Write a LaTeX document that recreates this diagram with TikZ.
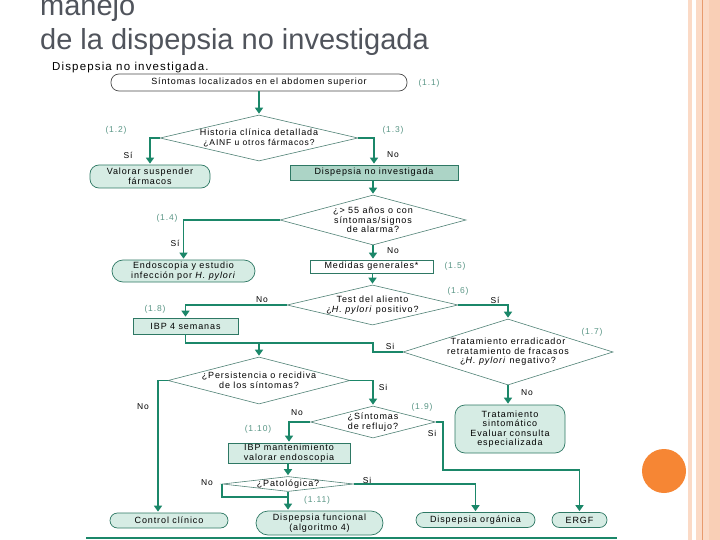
\documentclass[tikz,border=0pt]{standalone}
\usepackage{fontspec}
\setmainfont{Liberation Sans}
\newfontfamily\bxf{Liberation Sans}[LetterSpace=10]
\usetikzlibrary{arrows.meta,shapes.geometric}
\definecolor{lnG}{RGB}{27,135,105}
\definecolor{bxD}{RGB}{46,120,100}
\definecolor{fillL}{RGB}{214,236,228}
\definecolor{fillM}{RGB}{172,212,198}
\definecolor{diaC}{RGB}{80,130,118}
\definecolor{numC}{RGB}{90,150,134}
\definecolor{titC}{RGB}{80,84,92}
\definecolor{peachA}{RGB}{251,218,198}
\definecolor{peachB}{RGB}{249,207,182}
\definecolor{orangeL}{RGB}{232,155,110}
\definecolor{orangeC}{RGB}{246,134,52}
\begin{document}
\begin{tikzpicture}[x=1pt,y=-1pt,
  txt/.style={font=\bxf\fontsize{9}{9.5}\selectfont, align=center},
  box/.style={txt, draw=bxD, line width=0.7pt, fill=fillL, inner sep=0pt},
  rbox/.style={box, rounded corners=#1},
  dia/.style={diamond, draw=diaC, line width=0.6pt, inner sep=0pt, fill=white},
  dtext/.style={label={[txt]center:{#1}}},
  ln/.style={draw=lnG, line width=1.8pt},
  arr/.style={ln, -{Triangle[width=8pt,length=6pt]}, shorten >=1pt},
  num/.style={text=numC, font=\bxf\fontsize{8.5}{9}\selectfont, inner sep=0pt},
  yn/.style={font=\bxf\fontsize{8.5}{9}\selectfont, inner sep=0pt}]
\useasboundingbox (0,0) rectangle (720,540);
\fill[white] (0,0) rectangle (720,540);
% right border decoration
\fill[peachA] (688,0) rectangle (692,540);
\fill[peachA] (696,0) rectangle (702,540);
\fill[orangeL] (702,0) rectangle (703.2,540);
\fill[peachA] (703.2,0) rectangle (709,540);
\fill[peachB] (709,0) rectangle (720,540);
\fill[orangeC] (664,471) circle (22pt);
% title
\node[anchor=base west, inner sep=0pt, text=titC, font=\fontsize{29}{34}\selectfont] (t1) at (40,16) {manejo};
\node[anchor=base west, inner sep=0pt, text=titC, font=\fontsize{29}{34}\selectfont] (t2) at (40,50) {de la dispepsia no investigada};
\node[anchor=base west, inner sep=0pt, font=\bxf\fontsize{11.5}{12}\selectfont] (hd) at (52,71) {Dispepsia no investigada.};
% nodes
\node[txt, draw=black!70, line width=0.7pt, rounded corners=8pt, fill=white, inner sep=0pt, minimum width=296pt, minimum height=17pt] (n11) at (259,82.5) {Síntomas localizados en el abdomen superior};
\node[dia, minimum width=198pt, minimum height=46pt, dtext={Historia clínica detallada\\{\fontsize{8.5}{9}\selectfont ¿AINF u otros fármacos?}}] (d12) at (259,138) {};
\node[rbox=9pt, minimum width=120pt, minimum height=23pt] (n12) at (150,176.5) {Valorar suspender\\fármacos};
\node[box, fill=fillM, minimum width=168pt, minimum height=15pt] (n13) at (374,172.5) {Dispepsia no investigada};
\node[dia, minimum width=186pt, minimum height=50pt, dtext={¿> 55 años o con\\síntomas/signos\\de alarma?}] (d14) at (373,220) {};
\node[rbox=11pt, minimum width=143pt, minimum height=22pt] (n14) at (183.5,271) {Endoscopia y estudio\\infección por \textit{H. pylori}};
\node[box, fill=white, minimum width=123pt, minimum height=13pt] (n15) at (371.5,266.5) {Medidas generales*};
\node[dia, minimum width=171pt, minimum height=40pt, dtext={Test del aliento\\¿\textit{H. pylori} positivo?}] (d16) at (372.5,305) {};
\node[box, minimum width=105pt, minimum height=16pt] (n18) at (185.5,326) {IBP 4 semanas};
\node[dia, minimum width=210pt, minimum height=66pt, dtext={Tratamiento erradicador\\retratamiento de fracasos\\¿\textit{H. pylori} negativo?}] (d17) at (508,352) {};
\node[rbox=10pt, minimum width=110pt, minimum height=48pt] (n17) at (510,429) {Tratamiento\\sintomático\\Evaluar consulta\\especializada};
\node[dia, minimum width=182pt, minimum height=47pt, dtext={¿Persistencia o recidiva\\de los síntomas?}] (dP) at (259,380.5) {};
\node[dia, minimum width=125pt, minimum height=32pt, dtext={¿Síntomas\\de reflujo?}] (d19) at (373,422) {};
\node[box, minimum width=122pt, minimum height=20pt] (n110) at (289,453) {IBP mantenimiento\\valorar endoscopia};
\node[dia, minimum width=131pt, minimum height=15pt, dtext={¿Patológica?}] (dPat) at (288,484) {};
\node[rbox=7.5pt, minimum width=118pt, minimum height=15pt] (nCC) at (169,520.5) {Control clínico};
\node[rbox=12pt, minimum width=127pt, minimum height=24pt] (nDF) at (319.5,523) {Dispepsia funcional\\(algoritmo 4)};
\node[rbox=7.5pt, minimum width=119pt, minimum height=15pt] (nDO) at (475.5,520) {Dispepsia orgánica};
\node[rbox=7.5pt, minimum width=55pt, minimum height=15pt] (nER) at (579.5,520) {ERGF};
% coordinates
\coordinate (jA) at (373,343);
\coordinate (cL) at (158,380.5);
\coordinate (cJ) at (288,497);
\coordinate (r1) at (443,470);
% connectors
\draw[arr] (n11.south) -- (d12.north);
\draw[arr] (d12.west) -| (n12.north);
\draw[arr] (d12.east) -| (n13.north);
\draw[arr] (d14.north |- n13.south) -- (d14.north);
\draw[arr] (d14.west) -| (n14.north);
\draw[arr] (d14.south) -- (d14.south |- n15.north);
\draw[arr] (d16.north |- n15.south) -- (d16.north);
\draw[arr] (d16.west) -| (n18.north);
\draw[arr] (d16.east) -| (d17.north);
\draw[ln] (n18.south) |- (jA) |- (d17.west);
\draw[arr] (dP.north |- jA) -- (dP.north);
\draw[arr] (d17.south) -- (d17.south |- n17.north);
\draw[arr] (dP.west) -- (cL) -- (cL |- nCC.north);
\draw[arr] (dP.east) -| (d19.north);
\draw[arr] (d19.west) -| (n110.north);
\draw[arr] (dPat.north |- n110.south) -- (dPat.north);
\draw[arr] (dPat.south) -- (dPat.south |- nDF.north);
\draw[ln] (dPat.west) -- (dPat.west |- cJ) -- (cJ);
\draw[arr] (dPat.east) -| (nDO.north);
\draw[arr] (d19.east) -| (r1) -| (nER.north);
\draw[lnG, line width=1.6pt] (86,538) -- (617,538);
% labels
\node[num] (l11) at (429,83) {(1.1)};
\node[num] (l12) at (116,130) {(1.2)};
\node[num] (l13) at (393,130) {(1.3)};
\node[yn] (y12) at (128,155) {Sí};
\node[yn] (y13) at (393,155) {No};
\node[num] (l14) at (167,218) {(1.4)};
\node[yn] (y14) at (175,243) {Sí};
\node[yn] (y14n) at (393,251) {No};
\node[num] (l15) at (455,266) {(1.5)};
\node[num] (l16) at (458,291) {(1.6)};
\node[yn] (y16) at (495,300) {Sí};
\node[yn] (y16n) at (262,300) {No};
\node[num] (l18) at (155,309) {(1.8)};
\node[yn] (y17) at (390,346) {Si};
\node[num] (l17) at (592,332) {(1.7)};
\node[yn] (y17n) at (527,393) {No};
\node[yn] (yP) at (383,387) {Si};
\node[yn] (yPn) at (143,407) {No};
\node[num] (l19) at (422,407) {(1.9)};
\node[yn] (y19n) at (297,413) {No};
\node[yn] (y19) at (432,433) {Si};
\node[num] (l110) at (258,429) {(1.10)};
\node[yn] (yPatn) at (207,483) {No};
\node[yn] (yPat) at (367,480) {Si};
\node[num] (l111) at (317,500) {(1.11)};
\end{tikzpicture}
\end{document}
